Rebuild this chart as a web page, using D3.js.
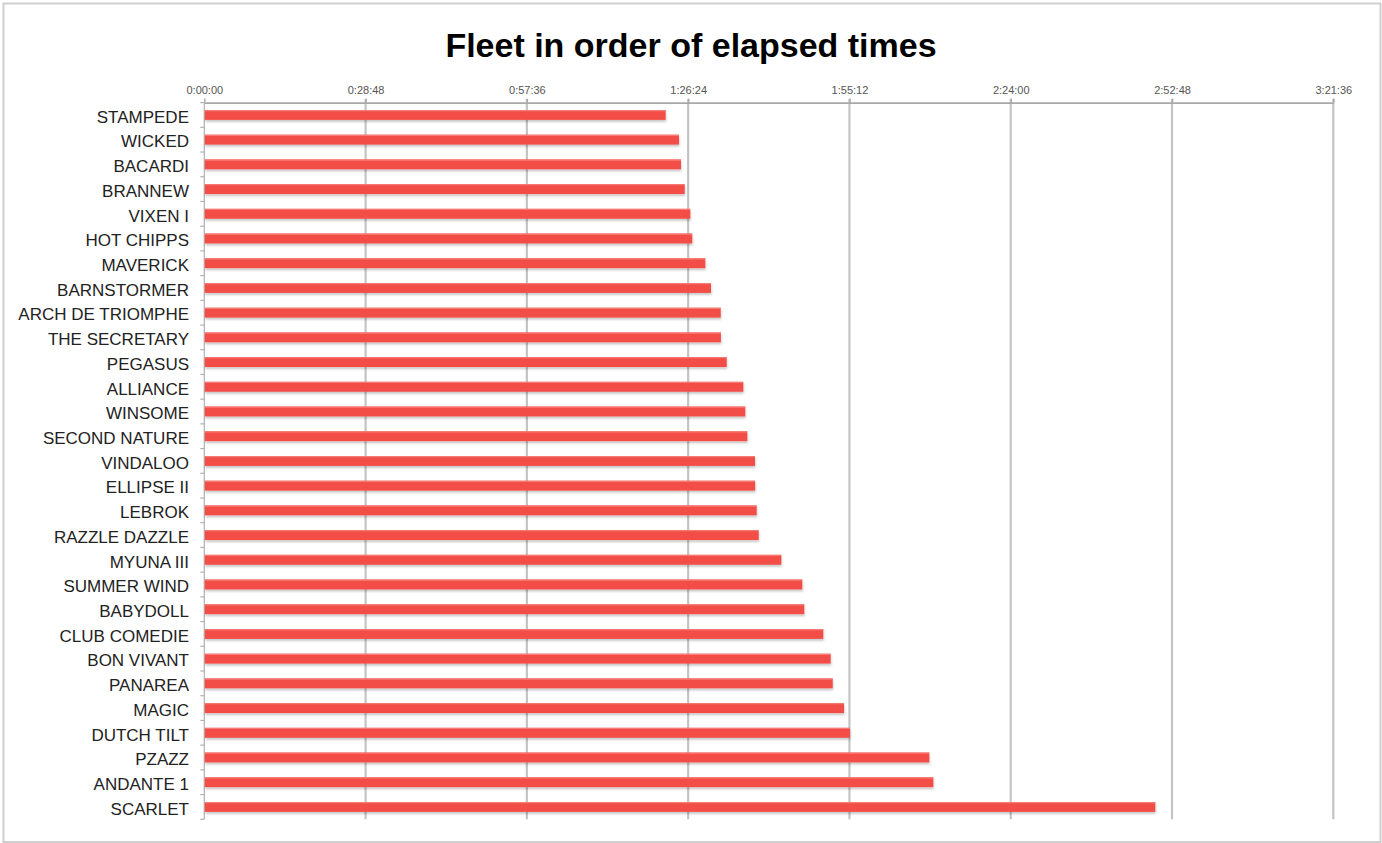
<!DOCTYPE html>
<html>
<head>
<meta charset="utf-8">
<script src="https://cdn.jsdelivr.net/npm/d3@7"></script>
<style>
  html, body { margin: 0; padding: 0; background: #fff; }
  svg { display: block; }
</style>
</head>
<body>
<svg id="chart" width="1382" height="843"></svg>
<script>
const boats = ["STAMPEDE","WICKED","BACARDI","BRANNEW","VIXEN I","HOT CHIPPS","MAVERICK","BARNSTORMER",
  "ARCH DE TRIOMPHE","THE SECRETARY","PEGASUS","ALLIANCE","WINSOME","SECOND NATURE","VINDALOO",
  "ELLIPSE II","LEBROK","RAZZLE DAZZLE","MYUNA III","SUMMER WIND","BABYDOLL","CLUB COMEDIE",
  "BON VIVANT","PANAREA","MAGIC","DUTCH TILT","PZAZZ","ANDANTE 1","SCARLET"];
const elapsed = ["1:22:23","1:24:46","1:25:07","1:25:47","1:26:47","1:27:08","1:29:28","1:30:29",
  "1:32:13","1:32:15","1:33:17","1:36:15","1:36:36","1:36:58","1:38:20",
  "1:38:22","1:38:38","1:39:00","1:43:02","1:46:47","1:47:08","1:50:32",
  "1:51:51","1:52:13","1:54:14","1:55:18","2:09:28","2:10:11","2:49:49"];
const tickLabels = ["0:00:00","0:28:48","0:57:36","1:26:24","1:55:12","2:24:00","2:52:48","3:21:36"];
const title = "Fleet in order of elapsed times";

const toSec = s => { const p = s.split(":").map(Number); return p[0]*3600 + p[1]*60 + p[2]; };
const data = boats.map((b, i) => ({ name: b, sec: toSec(elapsed[i]) }));
const tickVals = tickLabels.map(toSec);

const svg = d3.select("#chart");
const W = 1382, H = 843;

// outer frame
svg.append("rect").attr("x", 3.5).attr("y", 3.5).attr("width", W - 5).attr("height", H - 4.5)
  .attr("fill", "#fff").attr("stroke", "#cfcfcf").attr("stroke-width", 2);

const defs = svg.append("defs");
const f = defs.append("filter").attr("id", "shadow").attr("x", "-2%").attr("y", "-50%").attr("width", "104%").attr("height", "220%");
f.append("feDropShadow").attr("dx", 0.5).attr("dy", 2).attr("stdDeviation", 1.2)
  .attr("flood-color", "#000").attr("flood-opacity", 0.22);

const pLeft = 204.3, pRight = 1333.3, pTop = 102.6, pBottom = 819.3;

const x = d3.scaleLinear().domain([0, tickVals[tickVals.length - 1]]).range([pLeft, pRight]);
const y = d3.scaleBand().domain(boats).range([pTop, pBottom]).paddingInner(0.6).paddingOuter(0.3);

// title
svg.append("text").attr("x", 691).attr("y", 57)
  .attr("text-anchor", "middle")
  .attr("font-family", "Liberation Sans, Arial, sans-serif")
  .attr("font-weight", "bold").attr("font-size", 34).attr("fill", "#000")
  .text(title);

// gridlines
svg.append("g").selectAll("line").data(tickVals.slice(1)).join("line")
  .attr("x1", d => x(d)).attr("x2", d => x(d))
  .attr("y1", pTop - 3.5).attr("y2", pBottom)
  .attr("stroke", "#c4c4c4").attr("stroke-width", 2.2);

// top axis
const xAxis = d3.axisTop(x).tickValues(tickVals).tickFormat((d, i) => tickLabels[i]).tickSize(4).tickSizeOuter(0);
const gx = svg.append("g").attr("transform", `translate(0,${pTop})`).call(xAxis);
gx.select(".domain").attr("stroke", "#a8a8a8").attr("stroke-width", 1.6);
gx.selectAll(".tick line").attr("stroke", "#a8a8a8").attr("stroke-width", 1.4);
gx.selectAll(".tick text").attr("font-family", "Liberation Sans, Arial, sans-serif")
  .attr("font-size", 11).attr("fill", "#555").attr("dy", "-0.35em").attr("y", -5);

// left axis line and boundary ticks
svg.append("line").attr("x1", pLeft).attr("x2", pLeft).attr("y1", pTop).attr("y2", pBottom)
  .attr("stroke", "#b0b0b0").attr("stroke-width", 1.2);
const bounds = d3.range(boats.length + 1).map(i => pTop + i * y.step());
svg.append("g").selectAll("line").data(bounds).join("line")
  .attr("x1", pLeft - 4).attr("x2", pLeft).attr("y1", d => d).attr("y2", d => d)
  .attr("stroke", "#b0b0b0").attr("stroke-width", 1.2);

// bars
svg.append("g").attr("filter", "url(#shadow)").selectAll("rect").data(data).join("rect")
  .attr("x", x(0) + 0.5).attr("y", d => y(d.name))
  .attr("width", d => x(d.sec) - x(0) - 0.5).attr("height", y.bandwidth())
  .attr("fill", "#f34d47");
svg.append("g").selectAll("line").data(data).join("line")
  .attr("x1", x(0) + 0.5).attr("x2", d => x(d.sec))
  .attr("y1", d => y(d.name) + 0.6).attr("y2", d => y(d.name) + 0.6)
  .attr("stroke", "#f77b75").attr("stroke-width", 1.2);

// category labels
svg.append("g").selectAll("text").data(data).join("text")
  .attr("x", 189).attr("y", d => y(d.name) + y.bandwidth() / 2)
  .attr("dy", "0.46em").attr("text-anchor", "end")
  .attr("font-family", "Liberation Sans, Arial, sans-serif")
  .attr("font-size", 17).attr("fill", "#222")
  .text(d => d.name);
</script>
</body>
</html>
